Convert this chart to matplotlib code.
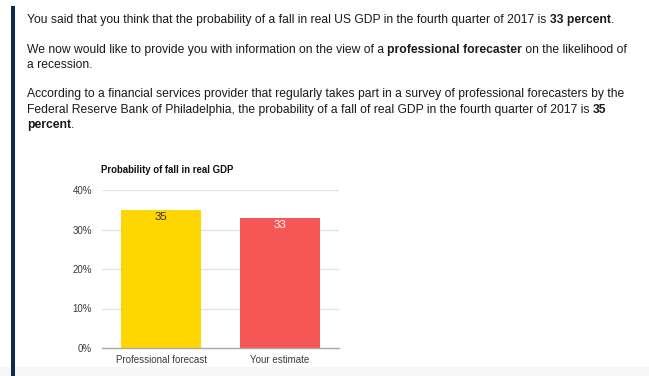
import matplotlib.pyplot as plt
from matplotlib.patches import Rectangle

plt.rcParams['font.family'] = ['Liberation Sans', 'DejaVu Sans']

categories = ["Professional forecast", "Your estimate"]
values = [35, 33]
bar_colors = ["#FFD600", "#F75656"]
label_colors = ["#333333", "#FFFFFF"]
yticks = [0, 10, 20, 30, 40]

paragraphs = [
    [[("You said that you think that the probability of a fall in real US GDP in the fourth quarter of 2017 is ", False),
      ("33 percent", True), (".", False)]],
    [[("We now would like to provide you with information on the view of a ", False),
      ("professional forecaster", True), (" on the likelihood of", False)],
     [("a recession.", False)]],
    [[("According to a financial services provider that regularly takes part in a survey of professional forecasters by the", False)],
     [("Federal Reserve Bank of Philadelphia, the probability of a fall of real GDP in the fourth quarter of 2017 is ", False),
      ("35", True)],
     [("percent", True), (".", False)]],
]
line_y = [[20], [50, 65], [94, 110, 125]]

W, H = 649, 376
fig = plt.figure(figsize=(W / 100, H / 100), dpi=100)
fig.patch.set_facecolor("white")

# page decoration: dark rule on the left, grey strip at the bottom
fig.add_artist(Rectangle((0, 0), 1, 9 / H, transform=fig.transFigure,
                         facecolor="#F7F7F7", edgecolor="none"))
fig.add_artist(Rectangle((11 / W, 0), 4 / W, (H - 6) / H, transform=fig.transFigure,
                         facecolor="#0D2A52", edgecolor="none"))

renderer = fig.canvas.get_renderer()
for para, ys in zip(paragraphs, line_y):
    for runs, y in zip(para, ys):
        x = 27
        for txt, bold in runs:
            t = fig.text(x / W, 1 - y / H, txt, fontsize=8.7, color="#1A1A1A",
                         fontweight="bold" if bold else "normal", va="center", ha="left")
            x += t.get_window_extent(renderer).width

ax = fig.add_axes([101.7 / W, (H - 348) / H, 237.3 / W, 158 / H])
xs = range(len(categories))
bars = ax.bar(xs, values, width=0.675, color=bar_colors, zorder=2)
for b, v, c in zip(bars, values, label_colors):
    ax.text(b.get_x() + b.get_width() / 2, v - 0.5, str(v), ha="center", va="top",
            fontsize=8.2, color=c, zorder=3)

ax.set_xlim(-0.5, 1.5)
ax.set_ylim(0, 40)
ax.set_yticks(yticks)
ax.set_yticklabels([f"{t}%" for t in yticks])
ax.set_xticks(list(xs))
ax.set_xticklabels(categories)
ax.tick_params(length=0, labelsize=7.0, labelcolor="#3A3A3A")
ax.tick_params(axis="y", pad=7)
ax.tick_params(axis="x", pad=5)
ax.grid(axis="y", color="#E2E2E2", linewidth=0.9, zorder=0)
for s in ["top", "right", "left"]:
    ax.spines[s].set_visible(False)
ax.spines["bottom"].set_color("#AAAAAA")
ax.spines["bottom"].set_linewidth(1.0)
ax.set_facecolor("white")

fig.text(101 / W, 1 - 170 / H, "Probability of fall in real GDP", fontsize=6.95,
         fontweight="bold", color="#111111", va="center", ha="left")

fig.savefig("out.png", dpi=100)
